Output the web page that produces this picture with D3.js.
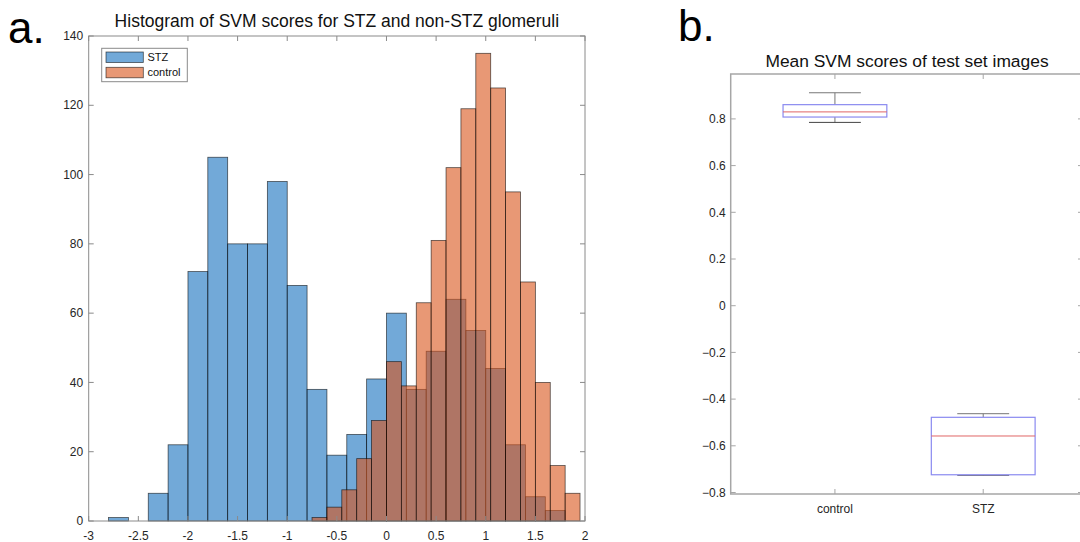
<!DOCTYPE html>
<html>
<head>
<meta charset="utf-8">
<script src="https://cdn.jsdelivr.net/npm/d3@7"></script>
<style>
  body { margin: 0; background: #fff; }
  svg { display: block; font-family: "Liberation Sans", Arial, sans-serif; }
</style>
</head>
<body>
<svg id="fig" width="1080" height="542"></svg>
<script>
// histogram (panel a)
var stzLeft = [-2.8,-2.6,-2.4,-2.2,-2.0,-1.8,-1.6,-1.4,-1.2,-1.0,-0.8,-0.6,-0.4,-0.2,0,0.2,0.4,0.6,0.8,1.0,1.2,1.4,1.6];
var stzCounts = [1,0,8,22,72,105,80,80,98,68,38,19,25,41,60,38,49,64,55,44,22,7,3];
var stzWidth = 0.2;
var ctrlLeft = [-0.75,-0.6,-0.45,-0.3,-0.15,0,0.15,0.3,0.45,0.6,0.75,0.9,1.05,1.2,1.35,1.5,1.65,1.8];
var ctrlCounts = [1,4,9,18,29,46,39,63,81,102,119,135,125,95,69,40,16,8];
var ctrlWidth = 0.15;
var histXTicks = [-3,-2.5,-2,-1.5,-1,-0.5,0,0.5,1,1.5,2];
var histYTicks = [0,20,40,60,80,100,120,140];

// boxplot (panel b)
var boxGroups = ["control","STZ"];
var boxLow = [0.785,-0.726];
var boxQ1 = [0.808,-0.724];
var boxMed = [0.830,-0.558];
var boxQ3 = [0.861,-0.478];
var boxHigh = [0.912,-0.4625];
var boxYTicks = [-0.8,-0.6,-0.4,-0.2,0,0.2,0.4,0.6,0.8];

var svg = d3.select("#fig");
var tickLen = 5;

// ---------- panel a ----------
var x = d3.scaleLinear().domain([-3,2]).range([88.7,585]);
var y = d3.scaleLinear().domain([0,140]).range([521,36]);

var stz = stzLeft.map((d,i) => ({x0:d, x1:d+stzWidth, n:stzCounts[i]}));
var ctrl = ctrlLeft.map((d,i) => ({x0:d, x1:d+ctrlWidth, n:ctrlCounts[i]}));

function bars(data, color){
  svg.append("g")
    .selectAll("rect")
    .data(data)
    .enter().append("rect")
      .attr("x", d => x(d.x0))
      .attr("y", d => y(d.n))
      .attr("width", d => x(d.x1) - x(d.x0))
      .attr("height", d => y(0) - y(d.n))
      .attr("fill", color)
      .attr("fill-opacity", 0.6)
      .attr("stroke", "#000")
      .attr("stroke-opacity", 0.65)
      .attr("stroke-width", 0.8);
}
bars(stz, "rgb(20,112,190)");
bars(ctrl, "rgb(217,83,25)");

var axA = svg.append("g").attr("stroke","#8a8a8a").attr("stroke-width",1).attr("fill","none");
axA.append("rect")
  .attr("x", x(-3)).attr("y", y(140))
  .attr("width", x(2)-x(-3)).attr("height", y(0)-y(140));
histXTicks.forEach(function(t){
  axA.append("line").attr("x1",x(t)).attr("x2",x(t)).attr("y1",y(0)).attr("y2",y(0)-tickLen);
  axA.append("line").attr("x1",x(t)).attr("x2",x(t)).attr("y1",y(140)).attr("y2",y(140)+tickLen);
});
histYTicks.forEach(function(t){
  axA.append("line").attr("x1",x(-3)).attr("x2",x(-3)+tickLen).attr("y1",y(t)).attr("y2",y(t));
  axA.append("line").attr("x1",x(2)).attr("x2",x(2)-tickLen).attr("y1",y(t)).attr("y2",y(t));
});

svg.append("g").attr("font-size",12).attr("fill","#262626").attr("text-anchor","middle")
  .selectAll("text").data(histXTicks).enter().append("text")
    .attr("x", d => x(d)).attr("y", 539.5)
    .text(d => d);
svg.append("g").attr("font-size",12).attr("fill","#262626").attr("text-anchor","end")
  .selectAll("text").data(histYTicks).enter().append("text")
    .attr("x", x(-3)-5.5).attr("y", d => y(d)).attr("dy","0.35em")
    .text(d => d);

svg.append("text")
  .attr("x", (x(-3)+x(2))/2).attr("y", 27)
  .attr("text-anchor","middle").attr("font-size",17.5).attr("fill","#111")
  .text("Histogram of SVM scores for STZ and non-STZ glomeruli");

// legend
var leg = svg.append("g");
leg.append("rect").attr("x",101.7).attr("y",48.3).attr("width",85.6).attr("height",33.4)
  .attr("fill","#fff").attr("stroke","#8a8a8a").attr("stroke-width",1);
[["STZ","rgb(20,112,190)"],["control","rgb(217,83,25)"]].forEach(function(d,i){
  leg.append("rect").attr("x",106).attr("y",52+i*15.3).attr("width",37.3).attr("height",10.5)
    .attr("fill",d[1]).attr("fill-opacity",0.6).attr("stroke","#000").attr("stroke-opacity",0.65).attr("stroke-width",0.8);
  leg.append("text").attr("x",147.5).attr("y",57.3+i*15.3).attr("dy","0.35em")
    .attr("font-size",11).attr("fill","#111").text(d[0]);
});

// ---------- panel b ----------
var bx = d3.scaleLinear().domain([0.297,2.673]).range([730.7,1083]);
var by = d3.scaleLinear().domain([-0.8064,0.9923]).range([494,74]);
var boxW = 0.7;

var axB = svg.append("g").attr("stroke","#a6a6a6").attr("stroke-width",1.5).attr("fill","none");
axB.append("rect")
  .attr("x", bx(0.297)).attr("y", by(0.9923))
  .attr("width", bx(2.673)-bx(0.297)).attr("height", by(-0.8064)-by(0.9923));
boxYTicks.forEach(function(t){
  axB.append("line").attr("stroke-width",1).attr("x1",bx(0.297)).attr("x2",bx(0.297)+tickLen).attr("y1",by(t)).attr("y2",by(t));
  axB.append("line").attr("stroke-width",1).attr("x1",bx(2.673)).attr("x2",bx(2.673)-tickLen).attr("y1",by(t)).attr("y2",by(t));
});
[1,2].forEach(function(t){
  axB.append("line").attr("stroke-width",1).attr("x1",bx(t)).attr("x2",bx(t)).attr("y1",by(-0.8064)).attr("y2",by(-0.8064)-tickLen);
  axB.append("line").attr("stroke-width",1).attr("x1",bx(t)).attr("x2",bx(t)).attr("y1",by(0.9923)).attr("y2",by(0.9923)+tickLen);
});

svg.append("g").attr("font-size",12).attr("fill","#262626").attr("text-anchor","end")
  .selectAll("text").data(boxYTicks).enter().append("text")
    .attr("x", bx(0.297)-5).attr("y", d => by(d)).attr("dy","0.35em")
    .text(d => d3.format(".1f")(d).replace("0.0","0").replace("-0.0","0"));
svg.append("g").attr("font-size",12).attr("fill","#262626").attr("text-anchor","middle")
  .selectAll("text").data(boxGroups).enter().append("text")
    .attr("x", (d,i) => bx(i+1)).attr("y", 513.3)
    .text(d => d);

svg.append("text")
  .attr("x", 907).attr("y", 66.7)
  .attr("text-anchor","middle").attr("font-size",17.4).attr("fill","#111")
  .text("Mean SVM scores of test set images");

var boxes = boxGroups.map((g,i) => ({g:g, pos:i+1, lo:boxLow[i], q1:boxQ1[i], med:boxMed[i], q3:boxQ3[i], hi:boxHigh[i]}));
var bg = svg.append("g").selectAll("g").data(boxes).enter().append("g");
// whiskers
bg.append("line").attr("x1",d=>bx(d.pos)).attr("x2",d=>bx(d.pos)).attr("y1",d=>by(d.hi)).attr("y2",d=>by(d.q3))
  .attr("stroke","#777").attr("stroke-width",1);
bg.append("line").attr("x1",d=>bx(d.pos)).attr("x2",d=>bx(d.pos)).attr("y1",d=>by(d.q1)).attr("y2",d=>by(d.lo))
  .attr("stroke","#777").attr("stroke-width",1);
// caps
bg.append("line").attr("x1",d=>bx(d.pos-boxW/4)).attr("x2",d=>bx(d.pos+boxW/4)).attr("y1",d=>by(d.hi)).attr("y2",d=>by(d.hi))
  .attr("stroke","#777").attr("stroke-width",1);
bg.append("line").attr("x1",d=>bx(d.pos-boxW/4)).attr("x2",d=>bx(d.pos+boxW/4)).attr("y1",d=>by(d.lo)).attr("y2",d=>by(d.lo))
  .attr("stroke","#444").attr("stroke-width",1);
// box
bg.append("rect")
  .attr("x",d=>bx(d.pos-boxW/2)).attr("y",d=>by(d.q3))
  .attr("width",d=>bx(d.pos+boxW/2)-bx(d.pos-boxW/2)).attr("height",d=>by(d.q1)-by(d.q3))
  .attr("fill","#fff").attr("stroke","#8a8af0").attr("stroke-width",1.2);
// median
bg.append("line").attr("x1",d=>bx(d.pos-boxW/2)).attr("x2",d=>bx(d.pos+boxW/2)).attr("y1",d=>by(d.med)).attr("y2",d=>by(d.med))
  .attr("stroke","#e06565").attr("stroke-width",1);

// panel letters
svg.append("text").attr("x",8).attr("y",43).attr("font-size",44).attr("fill","#000").text("a.");
svg.append("text").attr("x",678).attr("y",41).attr("font-size",44).attr("fill","#000").text("b.");
</script>
</body>
</html>
